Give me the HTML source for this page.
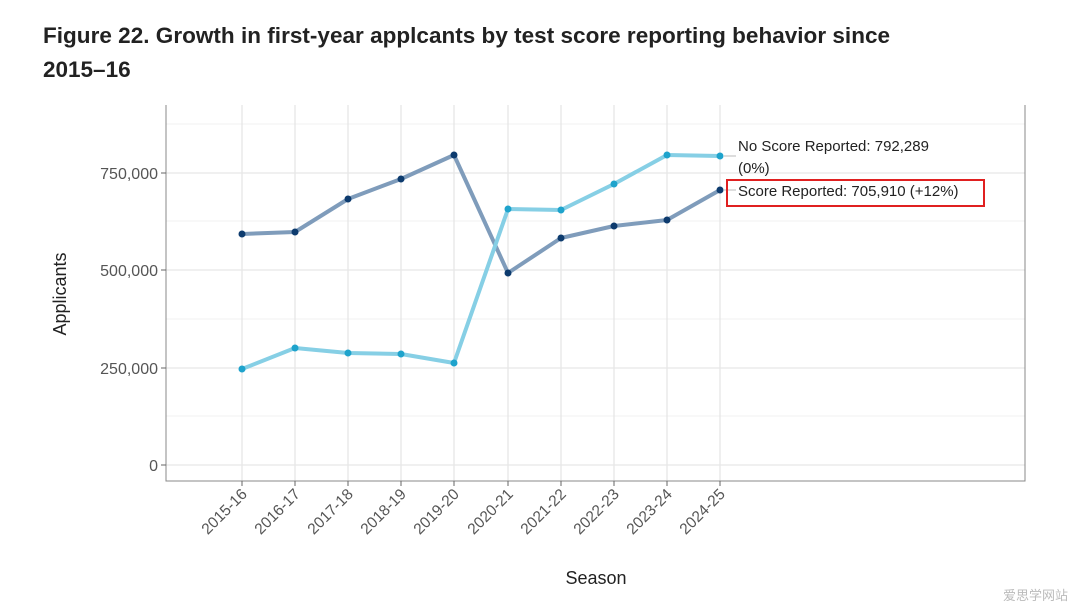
<!DOCTYPE html>
<html><head><meta charset="utf-8"><style>
body{margin:0;background:#fff;width:1080px;height:608px;overflow:hidden;font-family:"Liberation Sans",sans-serif}
</style></head><body>
<svg width="1080" height="608" xmlns="http://www.w3.org/2000/svg" font-family="Liberation Sans, sans-serif">
<text x="43" y="43" font-size="22.5" font-weight="bold" fill="#222" textLength="847">Figure 22. Growth in first-year applcants by test score reporting behavior since</text>
<text x="43" y="77" font-size="22.5" font-weight="bold" fill="#222">2015–16</text>
<g stroke="#f0f0f0" stroke-width="1">
<line x1="166" x2="1025" y1="416" y2="416"/><line x1="166" x2="1025" y1="319" y2="319"/><line x1="166" x2="1025" y1="221" y2="221"/><line x1="166" x2="1025" y1="124" y2="124"/>
</g>
<g stroke="#e6e6e6" stroke-width="1.3">
<line x1="166" x2="1025" y1="465" y2="465"/><line x1="166" x2="1025" y1="368" y2="368"/><line x1="166" x2="1025" y1="270" y2="270"/><line x1="166" x2="1025" y1="173" y2="173"/>
<line x1="242" x2="242" y1="105" y2="481"/><line x1="295" x2="295" y1="105" y2="481"/><line x1="348" x2="348" y1="105" y2="481"/><line x1="401" x2="401" y1="105" y2="481"/><line x1="454" x2="454" y1="105" y2="481"/><line x1="508" x2="508" y1="105" y2="481"/><line x1="561" x2="561" y1="105" y2="481"/><line x1="614" x2="614" y1="105" y2="481"/><line x1="667" x2="667" y1="105" y2="481"/><line x1="720" x2="720" y1="105" y2="481"/>
</g>
<path d="M166 105V481H1025V105" fill="none" stroke="#888" stroke-width="1"/>
<g stroke="#666" stroke-width="1">
<line x1="161" x2="166" y1="465" y2="465"/><line x1="161" x2="166" y1="368" y2="368"/><line x1="161" x2="166" y1="270" y2="270"/><line x1="161" x2="166" y1="173" y2="173"/>
<line x1="242" x2="242" y1="481" y2="486"/><line x1="295" x2="295" y1="481" y2="486"/><line x1="348" x2="348" y1="481" y2="486"/><line x1="401" x2="401" y1="481" y2="486"/><line x1="454" x2="454" y1="481" y2="486"/><line x1="508" x2="508" y1="481" y2="486"/><line x1="561" x2="561" y1="481" y2="486"/><line x1="614" x2="614" y1="481" y2="486"/><line x1="667" x2="667" y1="481" y2="486"/><line x1="720" x2="720" y1="481" y2="486"/>
</g>
<g font-size="16" fill="#555" text-anchor="end">
<text x="158" y="471">0</text><text x="158" y="374">250,000</text><text x="158" y="276">500,000</text><text x="158" y="179">750,000</text>
</g>
<g font-size="15.5" fill="#555" text-anchor="end">
<text transform="translate(248,495) rotate(-45)">2015-16</text>
<text transform="translate(301,495) rotate(-45)">2016-17</text>
<text transform="translate(354,495) rotate(-45)">2017-18</text>
<text transform="translate(407,495) rotate(-45)">2018-19</text>
<text transform="translate(460,495) rotate(-45)">2019-20</text>
<text transform="translate(514,495) rotate(-45)">2020-21</text>
<text transform="translate(567,495) rotate(-45)">2021-22</text>
<text transform="translate(620,495) rotate(-45)">2022-23</text>
<text transform="translate(673,495) rotate(-45)">2023-24</text>
<text transform="translate(726,495) rotate(-45)">2024-25</text>
</g>
<text x="596" y="584" font-size="18" fill="#222" text-anchor="middle">Season</text>
<text transform="translate(66,294) rotate(-90)" font-size="18" fill="#222" text-anchor="middle">Applicants</text>
<polyline points="242,234 295,232 348,199 401,179 454,155 508,273 561,238 614,226 667,220 720,190" fill="none" stroke="#7f9cbb" stroke-width="4" stroke-linejoin="round"/>
<polyline points="242,369 295,348 348,353 401,354 454,363 508,209 561,210 614,184 667,155 720,156" fill="none" stroke="#86cfe5" stroke-width="4" stroke-linejoin="round"/>
<g fill="#0d3b6e">
<circle cx="242" cy="234" r="3.5"/><circle cx="295" cy="232" r="3.5"/><circle cx="348" cy="199" r="3.5"/><circle cx="401" cy="179" r="3.5"/><circle cx="454" cy="155" r="3.5"/><circle cx="508" cy="273" r="3.5"/><circle cx="561" cy="238" r="3.5"/><circle cx="614" cy="226" r="3.5"/><circle cx="667" cy="220" r="3.5"/><circle cx="720" cy="190" r="3.5"/>
</g>
<g fill="#1ea3cc">
<circle cx="242" cy="369" r="3.5"/><circle cx="295" cy="348" r="3.5"/><circle cx="348" cy="353" r="3.5"/><circle cx="401" cy="354" r="3.5"/><circle cx="454" cy="363" r="3.5"/><circle cx="508" cy="209" r="3.5"/><circle cx="561" cy="210" r="3.5"/><circle cx="614" cy="184" r="3.5"/><circle cx="667" cy="155" r="3.5"/><circle cx="720" cy="156" r="3.5"/>
</g>
<line x1="724" x2="736" y1="156" y2="156" stroke="#bbb"/>
<line x1="724" x2="736" y1="190" y2="190" stroke="#bbb"/>
<g font-size="15" fill="#222">
<text x="738" y="151">No Score Reported: 792,289</text>
<text x="738" y="173">(0%)</text>
<text x="738" y="196">Score Reported: 705,910 (+12%)</text>
</g>
<rect x="727" y="180" width="257" height="26" fill="none" stroke="#e02020" stroke-width="2"/>
<text x="1068" y="600" font-size="13" fill="#bbb" text-anchor="end" font-family="Noto Sans CJK SC, sans-serif">爱思学网站</text>
</svg>
</body></html>
